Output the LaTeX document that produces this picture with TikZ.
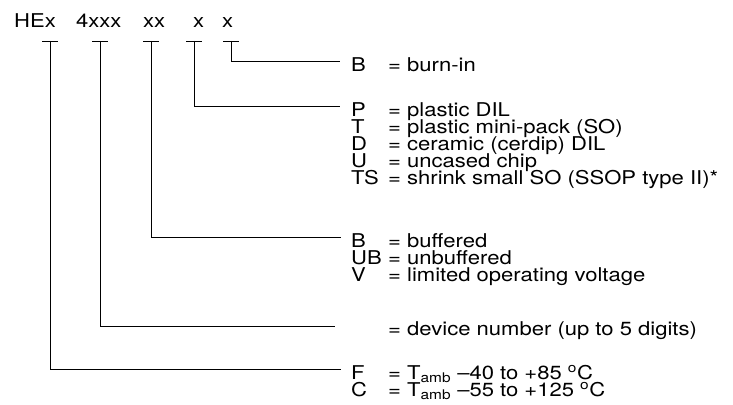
\documentclass[tikz,border=0pt]{standalone}
\usepackage{fontspec}
\setmainfont{TeX Gyre Heros}[FakeStretch=1.16]
\begin{document}
\begin{tikzpicture}[x=1pt,y=-1pt,font=\fontsize{19}{19}\selectfont,
  lbl/.style={anchor=base west,inner sep=0pt},
  lead/.style={line width=0.8pt}]
  \useasboundingbox (0,0) rectangle (733,404);

  % type number
  \node[lbl] (hex) at (14,28) {HEx};
  \node[lbl] (dev) at (76,28) {4xxx};
  \node[lbl] (buf) at (143,28) {xx};
  \node[lbl] (pkg) at (193,28) {x};
  \node[lbl] (bur) at (222,28) {x};

  \coordinate (t1) at (50,41);
  \coordinate (t2) at (100,41);
  \coordinate (t3) at (151,41);
  \coordinate (t4) at (194,41);
  \coordinate (t5) at (231,41);

  \coordinate (e1) at (341,369);
  \coordinate (e2) at (335,326);
  \coordinate (e3) at (341,237);
  \coordinate (e4) at (340,106);
  \coordinate (e5) at (340,61);

  % leaders
  \foreach \t in {t1,t2,t3,t4,t5}
    \draw[lead] ([xshift=-8]\t) -- ([xshift=8]\t);
  \draw[lead] (t1) |- (e1);
  \draw[lead] (t2) |- (e2);
  \draw[lead] (t3) |- (e3);
  \draw[lead] (t4) |- (e4);
  \draw[lead] (t5) |- (e5);

  % codes
  \node[lbl] (bI)  at (351,71) {B};
  \node[lbl] (dI)  at (388,71) {= burn-in};

  \node[lbl] (p)   at (351,116) {P};
  \node[lbl] (pd)  at (388,116) {= plastic DIL};
  \node[lbl] (t)   at (351,133) {T};
  \node[lbl] (td)  at (388,133) {= plastic mini-pack (SO)};
  \node[lbl] (d)   at (351,150) {D};
  \node[lbl] (dd)  at (388,150) {= ceramic (cerdip) DIL};
  \node[lbl] (u)   at (351,167) {U};
  \node[lbl] (ud)  at (388,167) {= uncased chip};
  \node[lbl] (ts)  at (351,184) {TS};
  \node[lbl] (tsd) at (388,184) {= shrink small SO (SSOP type II)*};

  \node[lbl] (b)   at (351,247) {B};
  \node[lbl] (bd)  at (388,247) {= buffered};
  \node[lbl] (ub)  at (351,264) {UB};
  \node[lbl] (ubd) at (388,264) {= unbuffered};
  \node[lbl] (v)   at (351,281) {V};
  \node[lbl] (vd)  at (388,281) {= limited operating voltage};

  \node[lbl] (nd)  at (388,335) {= device number (up to 5 digits)};

  \node[lbl] (f)   at (351,379) {F};
  \node[lbl] (fd)  at (388,379) {= T\textsubscript{amb} \textendash40 to +85 \textsuperscript{o}C};
  \node[lbl] (c)   at (351,396) {C};
  \node[lbl] (cd)  at (388,396) {= T\textsubscript{amb} \textendash55 to +125 \textsuperscript{o}C};
\end{tikzpicture}
\end{document}
